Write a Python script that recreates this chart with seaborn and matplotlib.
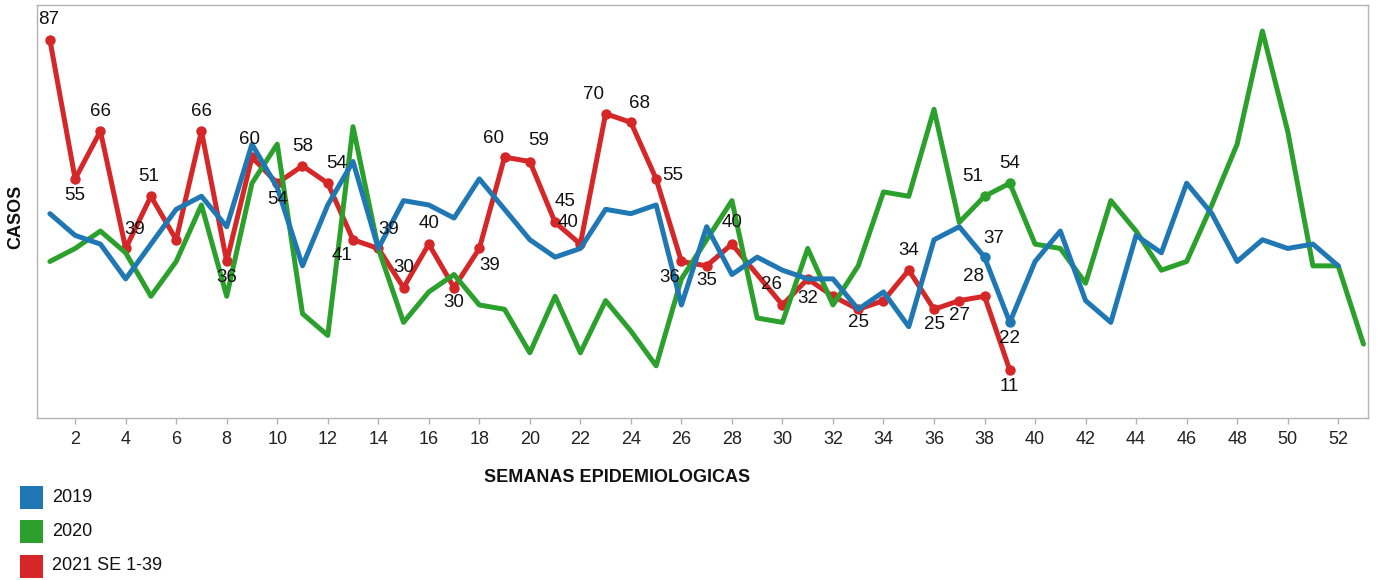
import matplotlib
matplotlib.use('Agg')
import matplotlib.pyplot as plt
import seaborn as sns
import pandas as pd
from matplotlib.patches import Rectangle

# ---------------- data ----------------
weeks_2019 = list(range(1, 53))
cases_2019 = [47, 42, 40, 32, 40, 48, 51, 44, 63, 53, 35, 49, 59, 39, 50, 49, 46, 55, 48, 41,
              37, 39, 48, 47, 49, 26, 44, 33, 37, 34, 32, 32, 25, 29, 21, 41, 44, 37, 22, 36,
              43, 27, 22, 42, 38, 54, 47, 36, 41, 39, 40, 35]
weeks_2020 = list(range(1, 54))
cases_2020 = [36, 39, 43, 38, 28, 36, 49, 28, 54, 63, 24, 19, 67, 39, 22, 29, 33, 26, 25, 15,
              28, 15, 27, 20, 12, 32, 41, 50, 23, 22, 39, 26, 35, 52, 51, 71, 45, 51, 54, 40,
              39, 31, 50, 43, 34, 36, 49, 63, 89, 66, 35, 35, 17]
weeks_2021 = list(range(1, 40))
cases_2021 = [87, 55, 66, 39, 51, 41, 66, 36, 60, 54, 58, 54, 41, 39, 30, 40, 30, 39, 60, 59,
              45, 40, 70, 68, 55, 36, 35, 40, 33, 26, 32, 28, 25, 27, 34, 25, 27, 28, 11]
series_names = ['2019', '2020', '2021 SE 1-39']
x_ticks = list(range(2, 53, 2))
x_label = 'SEMANAS EPIDEMIOLOGICAS'
y_label = 'CASOS'

# ---------------- styles ----------------
c_blue, c_green, c_red = '#1f77b4', '#2ca02c', '#d62728'
# label offsets in pixels (week -> (dx, dy))
red_label_offsets = {1: (-1, 20), 2: (0, -17), 3: (0, 20), 4: (9, 19), 5: (-2, 20), 7: (0, 20),
                     8: (0, -16), 9: (-2, 18), 10: (0, -16), 11: (0, 19), 12: (9, 20),
                     13: (-11, -16), 14: (10, 19), 15: (0, 20), 16: (0, 21), 17: (0, -15),
                     18: (10, -17), 19: (-11, 19), 20: (9, 21), 21: (10, 21), 22: (-12, 22),
                     23: (-12, 19), 24: (9, 19), 25: (17, 3), 26: (-12, -16), 27: (0, -15),
                     28: (0, 22), 30: (-11, 20), 31: (0, -20), 33: (0, -13), 35: (0, 20),
                     36: (0, -15), 37: (0, -15), 38: (-11, 20), 39: (0, -16)}
blue_label_offsets = {38: (9, 19), 39: (0, -16)}
green_label_offsets = {38: (-12, 20), 39: (0, 20)}

sns.set_style('white')
plt.rcParams['font.family'] = ['Liberation Sans', 'DejaVu Sans']

W, H = 1380, 580
fig = plt.figure(figsize=(W / 100, H / 100), dpi=100)
ax = fig.add_axes([37 / W, 1 - 418 / H, (1368 - 37) / W, (418 - 5) / H])

df19 = pd.DataFrame({'week': weeks_2019, 'cases': cases_2019})
df20 = pd.DataFrame({'week': weeks_2020, 'cases': cases_2020})
df21 = pd.DataFrame({'week': weeks_2021, 'cases': cases_2021})

lw = 3.6
sns.lineplot(data=df21, x='week', y='cases', color=c_red, lw=lw, marker='o', markersize=7.5,
             markeredgewidth=0, markevery=[i for i in range(len(weeks_2021)) if i != 28], ax=ax)
sns.lineplot(data=df20, x='week', y='cases', color=c_green, lw=lw, marker='o', markersize=7.5,
             markeredgewidth=0, markevery=[37, 38], ax=ax)
sns.lineplot(data=df19, x='week', y='cases', color=c_blue, lw=lw, marker='o', markersize=7.5,
             markeredgewidth=0, markevery=[37, 38], ax=ax)


def add_labels(weeks, vals, offsets):
    for w, v in zip(weeks, vals):
        if w in offsets:
            dx, dy = offsets[w]
            ax.annotate(str(v), (w, v), xytext=(dx, dy), textcoords='offset pixels',
                        ha='center', va='center', fontsize=13.5, color='#111111')


add_labels(weeks_2021, cases_2021, red_label_offsets)
add_labels(weeks_2019, cases_2019, blue_label_offsets)
add_labels(weeks_2020, cases_2020, green_label_offsets)

ax.set_xlim(0.49, 53.18)
ax.set_ylim(0, 95)
ax.set_xticks(x_ticks)
ax.set_xticklabels([str(t) for t in x_ticks])
ax.set_yticks([])
ax.set_xlabel('')
ax.set_ylabel('')
ax.tick_params(axis='x', length=4, width=1, color='#b3b3b3', labelsize=13, pad=5,
               labelcolor='#222222', bottom=True)
for s in ax.spines.values():
    s.set_color('#b3b3b3')
    s.set_linewidth(1)
    s.set_visible(True)

fig.text(617 / W, 1 - 478 / H, x_label, ha='center', va='center', fontsize=13,
         fontweight='bold', color='#111111')
fig.text(16 / W, 1 - 217 / H, y_label, ha='center', va='center', rotation=90, fontsize=13,
         fontweight='bold', color='#111111')

# legend
for name, col, yc in zip(series_names, [c_blue, c_green, c_red], [497.5, 531.5, 566]):
    fig.add_artist(Rectangle((20 / W, 1 - (yc + 11.5) / H), 23 / W, 23 / H,
                             transform=fig.transFigure, color=col, lw=0))
    fig.text(52 / W, 1 - yc / H, name, ha='left', va='center', fontsize=13, color='#111111')

fig.savefig('out.png', dpi=100)
